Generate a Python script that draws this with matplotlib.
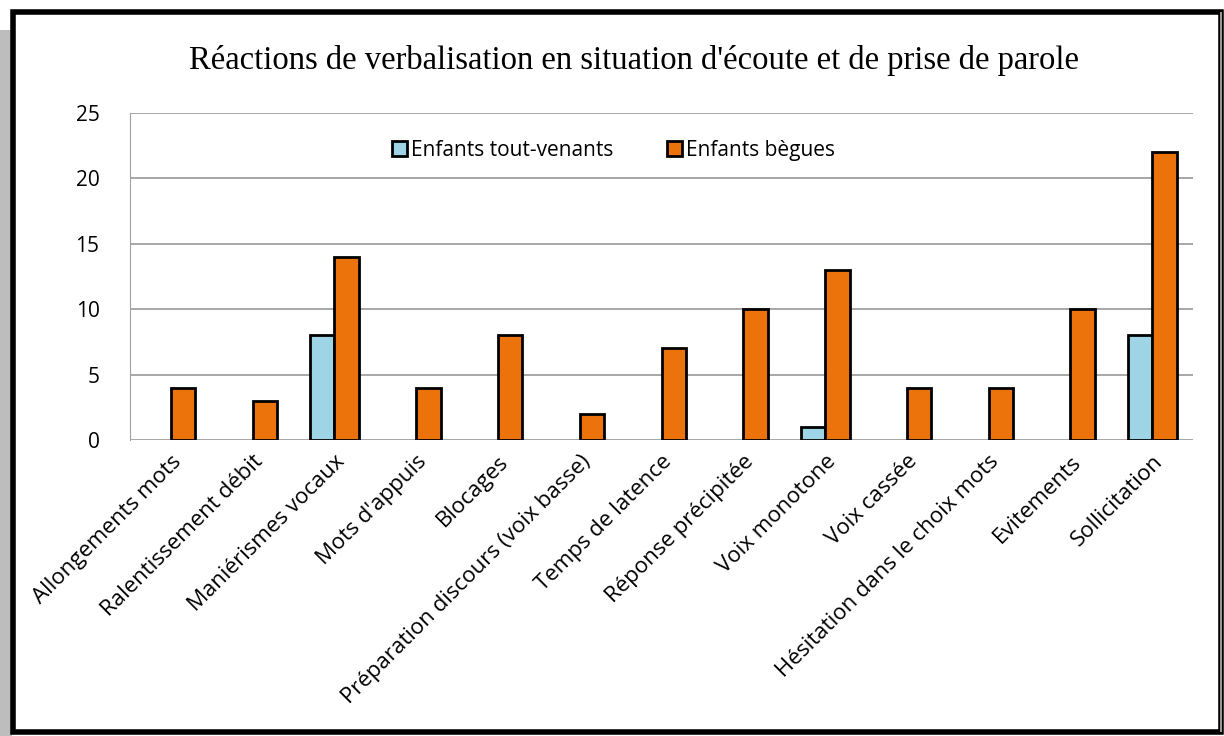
import numpy as np
import matplotlib.pyplot as plt
from matplotlib.patches import Rectangle

categories = ['Allongements mots', 'Ralentissement débit', 'Maniérismes vocaux',
              "Mots d'appuis", 'Blocages', 'Préparation discours (voix basse)',
              'Temps de latence', 'Réponse précipitée', 'Voix monotone',
              'Voix cassée', 'Hésitation dans le choix mots', 'Evitements',
              'Sollicitation']
tout_venants = [0, 0, 8, 0, 0, 0, 0, 0, 1, 0, 0, 0, 8]
begues = [4, 3, 14, 4, 8, 2, 7, 10, 13, 4, 4, 10, 22]

W, H = 1224, 736
fig = plt.figure(figsize=(W / 100, H / 100), dpi=100)

# frame around the chart (gray strip + black border)
fig.patches.append(Rectangle((0, 0), 12 / W, (H - 30) / H, transform=fig.transFigure,
                             facecolor='#bdbdbd', edgecolor='none', zorder=0))
fig.patches.append(Rectangle((12.5 / W, 4 / H), (1208 / W), (H - 16) / H,
                             transform=fig.transFigure, facecolor='white',
                             edgecolor='black', linewidth=4, zorder=1))
fig.patches.append(Rectangle((1220 / W, 4 / H), 2 / W, (H - 16) / H,
                             transform=fig.transFigure, facecolor='#999999',
                             edgecolor='none', zorder=2))

ax = fig.add_axes([130 / W, 1 - 440 / H, (1193 - 130) / W, (440 - 113) / H])
ax.set_zorder(3)

x = np.arange(len(categories))
w = 0.3
lw_tv = [2 if v else 0 for v in tout_venants]
lw_b = [2 if v else 0 for v in begues]
ax.bar(x - w / 2, tout_venants, w, color='#9dd5e6', edgecolor='black',
       linewidth=lw_tv, label='Enfants tout-venants', zorder=3)
ax.bar(x + w / 2, begues, w, color='#ec730c', edgecolor='black',
       linewidth=lw_b, label='Enfants bègues', zorder=3)

ax.set_xlim(-0.5, len(categories) - 0.5)
ax.set_ylim(0, 25)
ax.set_yticks([0, 5, 10, 15, 20, 25])
ax.yaxis.grid(True, color='#a0a0a0', linewidth=1.3)
ax.set_axisbelow(True)
for s in ['top', 'right', 'bottom']:
    ax.spines[s].set_visible(False)
ax.spines['left'].set_color('#a0a0a0')
ax.tick_params(axis='y', length=0, pad=22, labelsize=15)
ax.tick_params(axis='x', length=0, pad=8, labelsize=16)
ax.set_xticks(x)
ax.set_xticklabels(categories, rotation=45, ha='right', rotation_mode='anchor',
                   family='Open Sans')
for lbl in ax.get_yticklabels():
    lbl.set_family('Open Sans')

leg = ax.legend(loc='upper center', bbox_to_anchor=(0.455, 0.975), ncol=2, frameon=False,
                prop={'family': 'Open Sans', 'size': 15}, handlelength=0.7,
                handleheight=0.7, handletextpad=0.2, columnspacing=2.6)
for h in leg.legend_handles:
    h.set_linewidth(2)

fig.text(0.518, 1 - 60 / H,
         "Réactions de verbalisation en situation d'écoute et de prise de parole",
         ha='center', va='center', fontsize=23.5, family='Liberation Serif', zorder=4)

fig.savefig('out.png', dpi=100)
